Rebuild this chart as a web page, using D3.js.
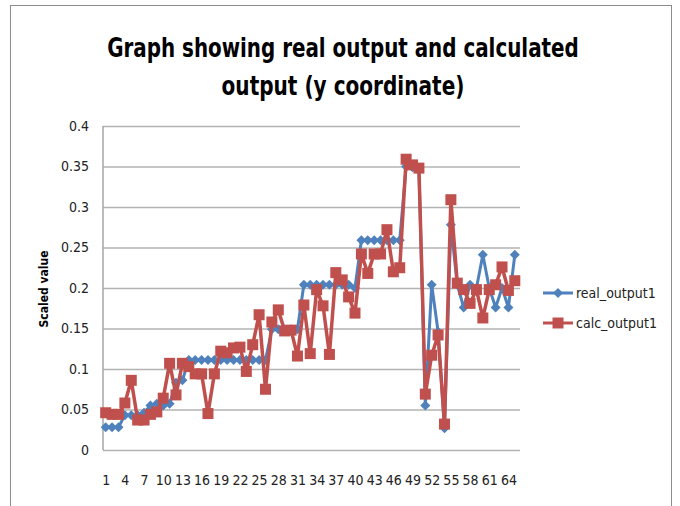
<!DOCTYPE html>
<html>
<head>
<meta charset="utf-8">
<script src="https://cdn.jsdelivr.net/npm/d3@7"></script>
<style>
  body { margin: 0; background: #fff; }
  svg { display: block; }
  .tick text { font-family: "Liberation Sans Narrow", "DejaVu Sans Condensed", "Liberation Sans", sans-serif; }
</style>
</head>
<body>
<div id="chart"></div>
<script>
// categories 1..65
const categories = d3.range(1, 66)
const realOutput = [
  0.028, 0.028, 0.028, 0.043, 0.043, 0.043, 0.046, 0.055, 0.057, 0.055,
  0.057, 0.083, 0.086, 0.111, 0.111, 0.111, 0.111, 0.111, 0.111, 0.111,
  0.111, 0.111, 0.111, 0.111, 0.111, 0.111, 0.149, 0.149, 0.149, 0.149,
  0.149, 0.204, 0.204, 0.204, 0.204, 0.204, 0.204, 0.204, 0.204, 0.200,
  0.259, 0.259, 0.259, 0.259, 0.259, 0.259, 0.259, 0.350, 0.349, 0.347,
  0.055, 0.204, 0.146, 0.027, 0.278, 0.204, 0.176, 0.204, 0.200, 0.241,
  0.200, 0.176, 0.200, 0.176, 0.241
]
const calcOutput = [
  0.046, 0.044, 0.044, 0.058, 0.086, 0.037, 0.037, 0.044, 0.047, 0.064,
  0.107, 0.068, 0.107, 0.103, 0.094, 0.094, 0.045, 0.094, 0.122, 0.120,
  0.126, 0.127, 0.097, 0.130, 0.167, 0.075, 0.158, 0.173, 0.147, 0.148,
  0.116, 0.179, 0.119, 0.198, 0.178, 0.118, 0.219, 0.210, 0.189, 0.169,
  0.242, 0.218, 0.242, 0.242, 0.272, 0.220, 0.225, 0.359, 0.352, 0.348,
  0.069, 0.117, 0.142, 0.032, 0.309, 0.206, 0.198, 0.181, 0.198, 0.163,
  0.198, 0.204, 0.226, 0.197, 0.209
]
const yTicks = [0, 0.05, 0.1, 0.15, 0.2, 0.25, 0.3, 0.35, 0.4]
const xTicks = categories.filter(d => (d - 1) % 3 === 0)

const width = 680, height = 506
const blue = "#4F81BD", red = "#C0504D"

const svg = d3.select("#chart").append("svg")
  .attr("width", width)
  .attr("height", height)

// chart border
svg.append("rect")
  .attr("x", 10.5).attr("y", 5.5)
  .attr("width", 661).attr("height", 520)
  .attr("fill", "#fff")
  .attr("stroke", "#8c8c8c")
  .attr("stroke-width", 1)

const x = d3.scalePoint().domain(categories).range([102.5, 518]).padding(0.5)
const y = d3.scaleLinear().domain([0, 0.4]).range([450, 126])

// gridlines + y labels
const yAxis = svg.append("g")
  .attr("transform", "translate(103,0)")
  .call(d3.axisLeft(y).tickValues(yTicks).tickSize(-417).tickPadding(14)
    .tickFormat(d => d === 0 ? "0" : d3.format("")(+d.toFixed(2))))
yAxis.select(".domain").remove()
yAxis.selectAll(".tick line").attr("stroke", "#b3b3b3").attr("stroke-width", 1.5)
yAxis.selectAll(".tick text").attr("font-size", 14).attr("fill", "#222")

svg.append("line")
  .attr("x1", 103).attr("x2", 103).attr("y1", 126).attr("y2", 450)
  .attr("stroke", "#a6a6a6").attr("stroke-width", 1.5)

const xAxis = svg.append("g")
  .attr("transform", "translate(0,450)")
  .call(d3.axisBottom(x).tickValues(xTicks).tickSize(0).tickPadding(25))
xAxis.select(".domain").remove()
xAxis.selectAll(".tick text").attr("font-size", 14).attr("fill", "#222")

// title, squeezed horizontally to the reference width
const titleFont = '"Liberation Sans Narrow", "DejaVu Sans Condensed", "Liberation Sans", sans-serif'
const titleLines = [
  { text: "Graph showing real output and calculated", y: 57, w: 472 },
  { text: "output (y coordinate)", y: 95, w: 243 }
]
titleLines.forEach(t => {
  const el = svg.append("text")
    .attr("text-anchor", "middle")
    .attr("font-family", titleFont).attr("font-weight", "bold").attr("font-size", 27)
    .text(t.text)
  const natural = el.node().getComputedTextLength()
  const k = Math.min(1, t.w / natural)
  el.attr("transform", "translate(343," + t.y + ") scale(" + k + ",1)")
})

// y axis title
svg.append("text")
  .attr("transform", "translate(48,289) rotate(-90)")
  .attr("text-anchor", "middle")
  .attr("font-family", titleFont).attr("font-weight", "bold").attr("font-size", 12)
  .text("Scaled value")

const line = d3.line().x((d, i) => x(categories[i])).y(d => y(d))
const diamond = s => `M0,${-s}L${s},0L0,${s}L${-s},0Z`

// real series
svg.append("path").datum(realOutput)
  .attr("d", line).attr("fill", "none")
  .attr("stroke", blue).attr("stroke-width", 3).attr("stroke-linejoin", "round")
svg.append("g").selectAll("path")
  .data(realOutput)
  .enter().append("path")
  .attr("d", diamond(5))
  .attr("transform", (d, i) => "translate(" + x(categories[i]) + "," + y(d) + ")")
  .attr("fill", blue)

// calc series
svg.append("path").datum(calcOutput)
  .attr("d", line).attr("fill", "none")
  .attr("stroke", red).attr("stroke-width", 3.5).attr("stroke-linejoin", "round")
svg.append("g").selectAll("rect")
  .data(calcOutput)
  .enter().append("rect")
  .attr("x", (d, i) => x(categories[i]) - 5.5)
  .attr("y", d => y(d) - 5.5)
  .attr("width", 11).attr("height", 11)
  .attr("fill", red)

// legend
const legend = [
  { name: "real_output1", color: blue, y: 293, marker: "diamond" },
  { name: "calc_output1", color: red, y: 323, marker: "square" }
]
const lg = svg.append("g").selectAll("g").data(legend).enter().append("g")
  .attr("transform", d => "translate(0," + d.y + ")")
lg.append("line")
  .attr("x1", 543).attr("x2", 573)
  .attr("stroke", d => d.color).attr("stroke-width", 3)
lg.append("path")
  .attr("transform", "translate(558,0)")
  .attr("d", d => d.marker === "diamond" ? diamond(5) : "M-5.5,-5.5h11v11h-11Z")
  .attr("fill", d => d.color)
lg.append("text")
  .attr("x", 576).attr("y", 5)
  .attr("font-family", titleFont).attr("font-size", 14).attr("fill", "#222")
  .text(d => d.name)
</script>
</body>
</html>
